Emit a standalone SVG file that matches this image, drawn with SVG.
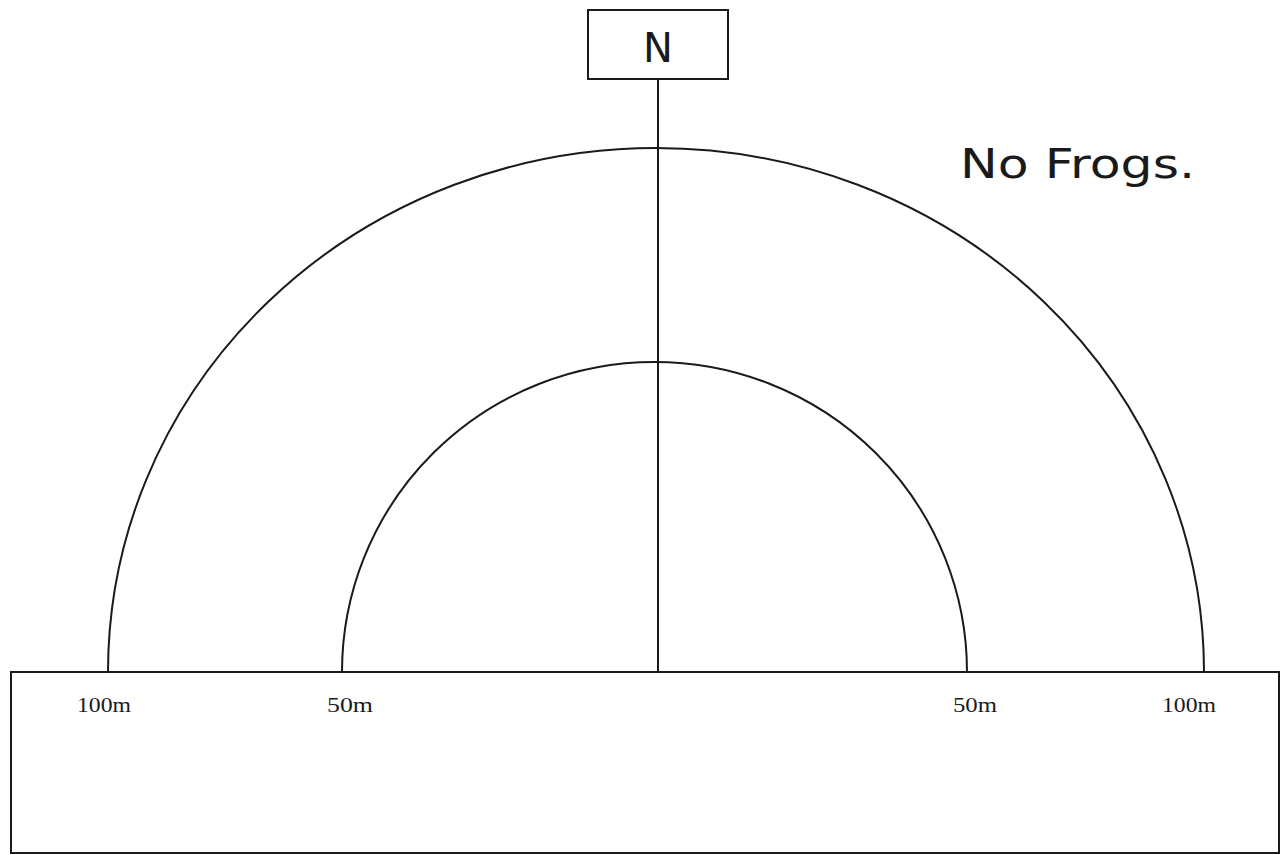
<svg xmlns="http://www.w3.org/2000/svg" width="1283" height="855" viewBox="0 0 1283 855">
<style>
.ln{fill:none;stroke:#1a1a1a;stroke-width:2}
.lbl{font-family:"Liberation Serif",serif;font-size:21px;fill:#1a1a1a}
.hand{font-family:"DejaVu Sans",sans-serif;fill:#1a1a1a}
</style>
<rect width="1283" height="855" fill="#ffffff"/>
<g id="connectors">
<line class="ln" x1="658" y1="79" x2="658" y2="672"/>
</g>
<g id="north">
<rect class="ln" x="588" y="10" width="140" height="69"/>
<text class="hand" x="658" y="62" font-size="40" text-anchor="middle">N</text>
</g>
<g id="outer-arc">
<path class="ln" d="M108,672 A548,524 0 0 1 1204,672"/>
</g>
<g id="inner-arc">
<path class="ln" d="M342,672 A312.5,310 0 0 1 967,672"/>
</g>
<g id="base">
<rect class="ln" x="11" y="672" width="1268" height="181"/>
<text class="lbl" x="77" y="712" textLength="54" lengthAdjust="spacingAndGlyphs">100m</text>
<text class="lbl" x="327" y="712" textLength="46" lengthAdjust="spacingAndGlyphs">50m</text>
<text class="lbl" x="953" y="712" textLength="44" lengthAdjust="spacingAndGlyphs">50m</text>
<text class="lbl" x="1162" y="712" textLength="54" lengthAdjust="spacingAndGlyphs">100m</text>
</g>
<g id="note">
<text class="hand" x="960" y="178" font-size="40" textLength="235" lengthAdjust="spacingAndGlyphs">No Frogs.</text>
</g>
</svg>
